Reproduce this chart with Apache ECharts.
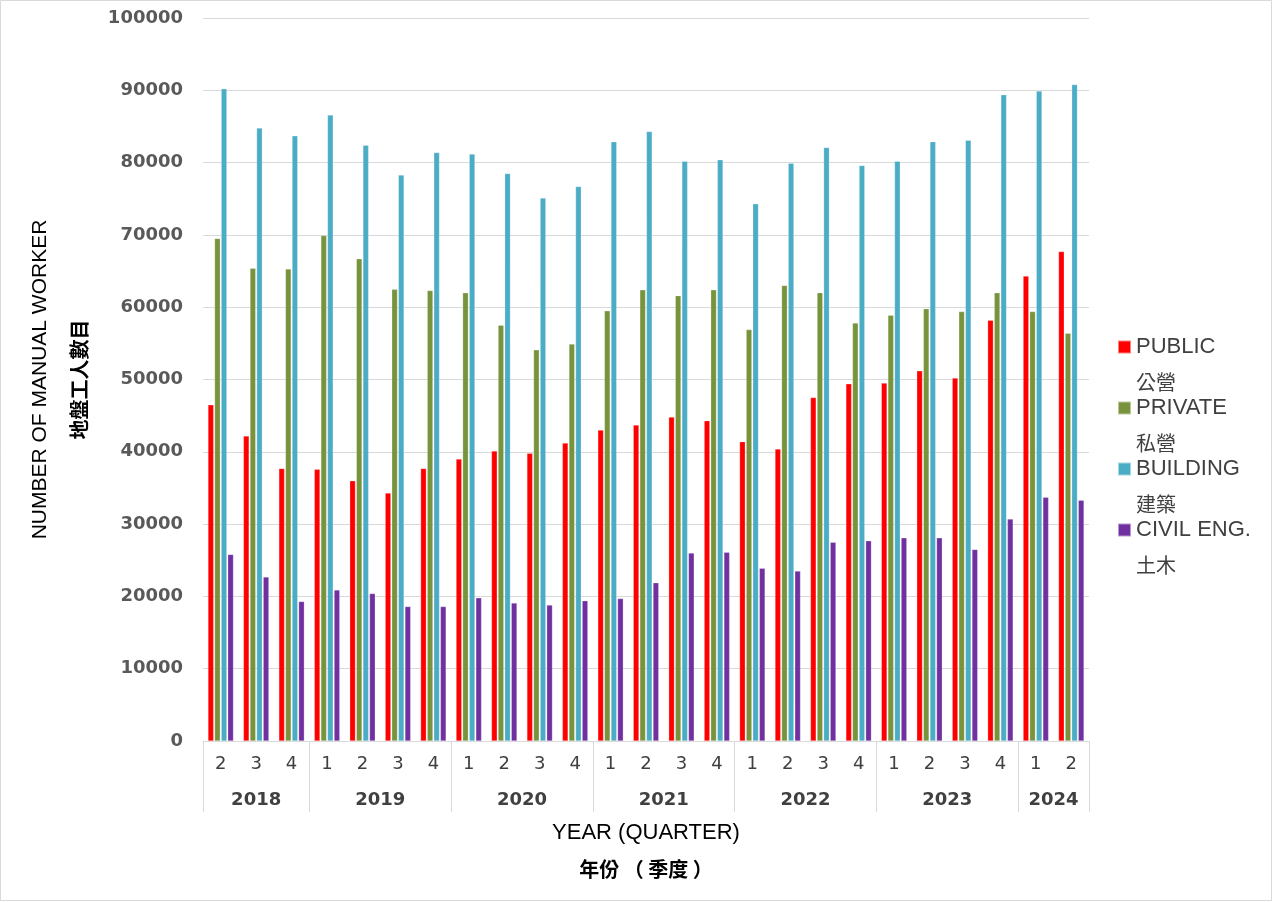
<!DOCTYPE html>
<html>
<head>
<meta charset="utf-8">
<script src="https://cdn.jsdelivr.net/npm/echarts@6/dist/echarts.min.js"></script>
<style>
  html, body { margin: 0; padding: 0; background: #fff; }
  #chart { width: 1273px; height: 902px; }
</style>
</head>
<body>
<div id="chart"></div>
<script>
// quarters per year (2018 Q2 .. 2024 Q2)
const years = ['2018', '2019', '2020', '2021', '2022', '2023', '2024'];
const quarters = [
    '2', '3', '4',
    '1', '2', '3', '4',
    '1', '2', '3', '4',
    '1', '2', '3', '4',
    '1', '2', '3', '4',
    '1', '2', '3', '4',
    '1', '2'
];
const quartersPerYear = [3, 4, 4, 4, 4, 4, 2];

const seriesNames = ['PUBLIC\n公營', 'PRIVATE\n私營', 'BUILDING\n建築', 'CIVIL ENG.\n土木'];
const seriesColors = ['#ff0000', '#77933c', '#4bacc6', '#7030a0'];

const publicWorkers = [46500, 42200, 37700, 37600, 36000, 34300, 37700, 39000, 40100, 39800, 41200,
    43000, 43700, 44800, 44300, 41400, 40400, 47500, 49400, 49500, 51200, 50200, 58200, 64300, 67700];
const privateWorkers = [69500, 65400, 65300, 69900, 66700, 62500, 62300, 62000, 57500, 54100, 54900,
    59500, 62400, 61600, 62400, 56900, 63000, 62000, 57800, 58900, 59800, 59400, 62000, 59400, 56400];
const buildingWorkers = [90200, 84800, 83700, 86600, 82400, 78300, 81400, 81200, 78500, 75100, 76700,
    82900, 84300, 80200, 80400, 74300, 79900, 82100, 79600, 80200, 82900, 83100, 89400, 89900, 90800];
const civilWorkers = [25800, 22700, 19300, 20900, 20400, 18600, 18600, 19800, 19100, 18800, 19400,
    19700, 21900, 26000, 26100, 23900, 23500, 27500, 27700, 28100, 28100, 26500, 30700, 33700, 33300];

// year axis: points on half-quarter boundaries, labels at group centres, ticks at group edges
const yearSlots = [];
const yearEdges = [0];
const yearCentres = {};
let pos = 0;
years.forEach((y, i) => {
    yearCentres[pos * 2 + quartersPerYear[i]] = y;
    pos += quartersPerYear[i];
    yearEdges.push(pos * 2);
});
for (let k = 0; k <= pos * 2; k++) {
    yearSlots.push(yearCentres[k] || '');
}

const chart = echarts.init(document.getElementById('chart'));

const values = [publicWorkers, privateWorkers, buildingWorkers, civilWorkers];
const series = seriesNames.map((name, i) => ({
    name: name,
    type: 'bar',
    data: values[i],
    barGap: '15%',
    barCategoryGap: '28%',
    itemStyle: {
        color: seriesColors[i],
        borderColor: 'rgba(255,255,255,0.5)',
        borderWidth: 0.5
    }
}));

// one legend per series; an empty first line keeps the swatch on the English line
const legendFont = "'Liberation Sans', 'Noto Sans CJK TC', sans-serif";
const legends = seriesNames.map((name, i) => ({
    data: [name],
    orient: 'vertical',
    left: 1117,
    top: 302 + i * 61,
    padding: 0,
    itemWidth: 13,
    itemHeight: 13,
    icon: 'rect',
    formatter: (n) => {
        const parts = n.split('\n');
        return '{s| }\n{a|' + parts[0] + '}\n{b|' + parts[1] + '}';
    },
    textStyle: {
        color: '#404040',
        rich: {
            s: { fontSize: 20, lineHeight: 35 },
            a: { fontFamily: legendFont, fontSize: 22, color: '#404040', lineHeight: 35 },
            b: { fontFamily: "'Noto Sans CJK TC', sans-serif", fontSize: 20, color: '#404040', lineHeight: 35 }
        }
    }
}));

chart.setOption({
    animation: false,
    legend: legends,
    grid: {
        left: 203,
        right: 184,
        top: 18,
        bottom: 161
    },
    xAxis: [
        {
            type: 'category',
            data: quarters,
            position: 'bottom',
            axisLine: { lineStyle: { color: '#d9d9d9' } },
            axisTick: { show: false },
            axisLabel: {
                interval: 0,
                margin: 14,
                fontFamily: "'DejaVu Sans', sans-serif",
                fontSize: 18,
                color: '#404040'
            },
            name: '{a|YEAR (QUARTER)}\n{b|年份 （ 季度 ）}',
            nameLocation: 'middle',
            nameGap: 74,
            nameTextStyle: {
                rich: {
                    a: {
                        fontFamily: "'Liberation Sans', sans-serif",
                        fontSize: 22,
                        color: '#000',
                        lineHeight: 36
                    },
                    b: {
                        fontFamily: "'Noto Sans CJK TC', sans-serif",
                        fontSize: 20,
                        fontWeight: 'bold',
                        color: '#000',
                        lineHeight: 36
                    }
                }
            }
        },
        {
            type: 'category',
            data: yearSlots,
            position: 'bottom',
            boundaryGap: false,
            axisLine: { show: false },
            axisTick: {
                show: true,
                length: 71,
                interval: (idx) => yearEdges.indexOf(idx) >= 0,
                lineStyle: { color: '#d9d9d9' }
            },
            axisLabel: {
                interval: (idx, val) => val !== '',
                margin: 50,
                fontFamily: "'DejaVu Sans', sans-serif",
                fontWeight: 'bold',
                fontSize: 18,
                color: '#404040'
            },
            splitLine: { show: false }
        }
    ],
    yAxis: {
        type: 'value',
        min: 0,
        max: 100000,
        interval: 10000,
        axisLine: { show: false },
        axisTick: { show: false },
        splitLine: { lineStyle: { color: '#d9d9d9' } },
        axisLabel: {
            margin: 20,
            formatter: (v) => String(v),
            fontFamily: "'DejaVu Sans', sans-serif",
            fontWeight: 'bold',
            fontSize: 18,
            color: '#595959'
        },
        name: '{a|NUMBER OF MANUAL WORKER}\n{b|地盤工人數目}',
        nameLocation: 'middle',
        nameRotate: 90,
        nameGap: 104,
        nameTextStyle: {
            rich: {
                a: {
                    fontFamily: "'Liberation Sans', sans-serif",
                    fontSize: 21,
                    color: '#000',
                    lineHeight: 39
                },
                b: {
                    fontFamily: "'Noto Sans CJK TC', sans-serif",
                    fontSize: 20,
                    fontWeight: 'bold',
                    color: '#000',
                    lineHeight: 39
                }
            }
        }
    },
    graphic: [{
        type: 'rect',
        shape: { x: 0.5, y: 0.5, width: 1271, height: 900 },
        style: { fill: 'none', stroke: '#d9d9d9', lineWidth: 1 },
        silent: true
    }],
    series: series
});
</script>
</body>
</html>
